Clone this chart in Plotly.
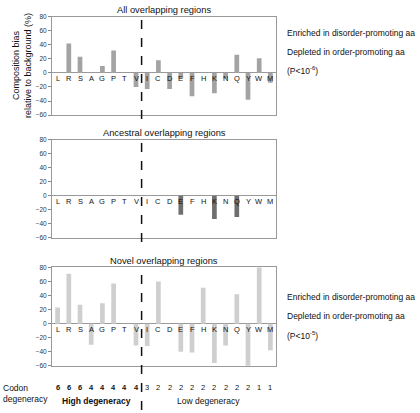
import plotly.graph_objects as go

aa = ["L","R","S","A","G","P","T","V","I","C","D","E","F","H","K","N","Q","Y","W","M"]
all_vals = [0, 42, 23, 0, 10, 32, 0, -20, -23, 18, -23, -8, -33, 0, -29, -8, 26, -38, 21, -14]
anc_vals = [0, 0, 0, 0, 0, 0, 0, 0, 0, 0, 0, -27, 0, 0, -33, 0, -30, 0, 0, 0]
novel_vals = [23, 71, 27, -30, 29, 57, 0, -31, -32, 60, 0, -40, -41, 51, -56, -31, 42, -62, 82, -38]
degeneracy = ["6","6","6","4","4","4","4","4","3","2","2","2","2","2","2","2","2","2","1","1"]
titles = ["All overlapping regions", "Ancestral overlapping regions", "Novel overlapping regions"]
colors = ["#a3a3a3", "#6f6f6f", "#cfcfcf"]
y_ticks = [-60, -40, -20, 0, 20, 40, 60, 80]

W, H = 420, 413
x0, x1 = 52 / W, 276 / W
panels_px = [(13, 113), (138, 238), (268, 368)]
domains = [(1 - b / H, 1 - t / H) for t, b in panels_px]

fig = go.Figure()
font = "Liberation Sans, Arial, sans-serif"
annotations = []


def note(x, y, text, size, xref="paper", yref="paper", xanchor="center", **kw):
    annotations.append(dict(x=x, y=y, xref=xref, yref=yref, text=text, showarrow=False,
                            xanchor=xanchor, yanchor="middle",
                            font=dict(size=size, color="#111", family=font), **kw))


series = [all_vals, anc_vals, novel_vals]
for i, vals in enumerate(series):
    n = "" if i == 0 else str(i + 1)
    fig.add_trace(go.Bar(x=aa, y=vals, marker_color=colors[i], marker_line_width=0,
                         xaxis="x" + n, yaxis="y" + n, showlegend=False, width=0.42))
    # small category tick marks on the zero line
    fig.add_trace(go.Scatter(x=[k + 0.5 for k in range(len(aa) - 1)], y=[0] * (len(aa) - 1),
                             mode="markers", marker=dict(symbol="line-ns-open", size=4, color="#888",
                             line=dict(color="#888", width=1)),
                             xaxis="x" + n, yaxis="y" + n, showlegend=False, hoverinfo="skip"))
    fig.layout["xaxis" + n] = dict(domain=[x0, x1], type="category", range=[-0.5, 19.5],
                                   showticklabels=False, showgrid=False, zeroline=False,
                                   showline=True, mirror=True, linecolor="#999", linewidth=1,
                                   ticks="", fixedrange=True, anchor="y" + n)
    fig.layout["yaxis" + n] = dict(domain=list(domains[i]), range=[-60, 80], tickvals=y_ticks,
                                   ticks="outside", ticklen=3, tickcolor="#888",
                                   tickfont=dict(size=6.5, color="#333", family=font),
                                   showgrid=False, zeroline=True, zerolinecolor="#999",
                                   zerolinewidth=1, showline=True, mirror=True,
                                   linecolor="#999", linewidth=1, anchor="x" + n, fixedrange=True)
    for k, a in enumerate(aa):
        note(k, -8, a, 7.5, xref="x" + n, yref="y" + n)
    note((x0 + x1) / 2, 1 - (panels_px[i][0] - 7) / H, titles[i], 9.3)
    # vertical dashed boundary line
    fig.add_shape(type="line", x0=7.5, x1=7.5, xref="x" + n, yref="paper",
                  y0=(domains[i][0] - 4 / H) if i < 2 else 0, y1=domains[i][1] - 2 / H,
                  line=dict(color="#111", width=1.5, dash="dash"))

# side notes
for base, p in [(29, "-6"), (298, "-5")]:
    for j, txt in enumerate(["Enriched in disorder-promoting aa", "Depleted in order-promoting aa",
                             "(P<10<sup>%s</sup>)" % p]):
        note(285 / W, 1 - (base + j * 19.5) / H, txt, 8.5, xanchor="left")

# y title
note(22 / W, 1 - 63 / H, "Composition bias<br>relative to background (%)", 9, textangle=-90)

# codon degeneracy row
for k, d in enumerate(degeneracy):
    note(k, 1 - 390 / H, "<b>%s</b>" % d if k < 8 else d, 7.5, xref="x3")
note(1 / W, 1 - 396 / H, "Codon<br>degeneracy", 8.5, xanchor="left", align="left")
note(3.5, 1 - 404 / H, "<b>High degeneracy</b>", 8.5, xref="x3")
note(13.5, 1 - 404 / H, "Low degeneracy", 8.5, xref="x3")

fig.update_layout(width=W, height=H, margin=dict(l=0, r=0, t=0, b=0),
                  plot_bgcolor="white", paper_bgcolor="white", annotations=annotations,
                  bargap=0.5)
fig.write_html("out.html", config={"displayModeBar": False},
               post_script="document.body.style.margin='0';document.body.style.overflow='hidden';")
